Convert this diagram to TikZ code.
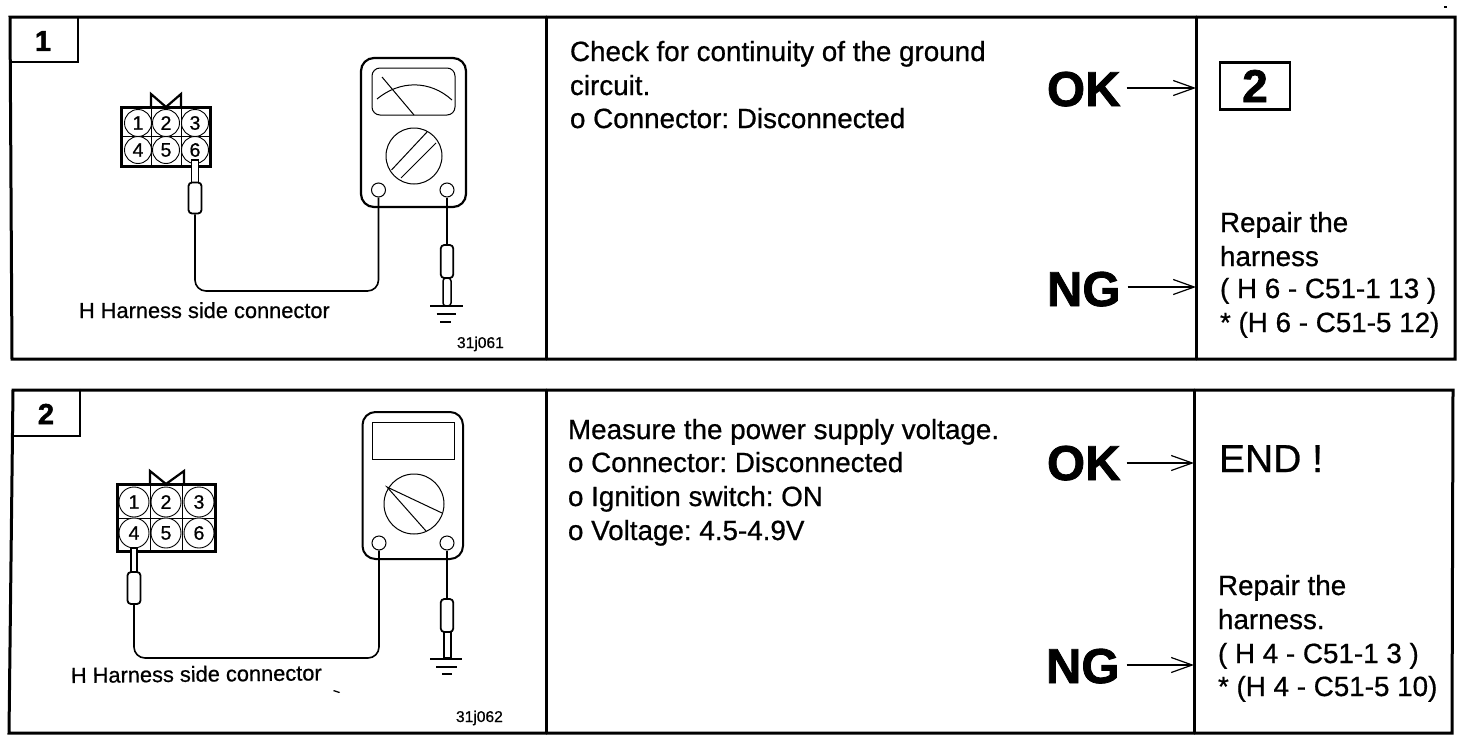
\documentclass[tikz,border=0pt]{standalone}
\usepackage{fontspec}
\setmainfont[FakeBold=0.7]{Liberation Sans}
\newfontfamily\heavy[FakeBold=1.6]{Liberation Sans Bold}
\usetikzlibrary{arrows.meta}
\frenchspacing
\tikzset{
  frameline/.style={line width=3pt,line cap=round},
  thinline/.style={line width=1pt},
  txt/.style={anchor=base west,inner sep=0pt,outer sep=0pt,font=\fontsize{27.8}{30}\selectfont},
  verdict/.style={anchor=base west,inner sep=0pt,outer sep=0pt,font=\heavy\fontsize{49}{50}\selectfont},
  smalltxt/.style={anchor=base west,inner sep=0pt,outer sep=0pt,font=\fontsize{21.8}{24}\selectfont},
  codetxt/.style={anchor=base west,inner sep=0pt,outer sep=0pt,font=\fontsize{15.6}{16}\selectfont},
  tabnum/.style={inner sep=0pt,font=\heavy\fontsize{29}{30}\selectfont},
  pin/.style={circle,draw,line width=.9pt,fill=white,inner sep=0pt,font=\fontsize{19.5}{20}\selectfont},
  termin/.style={circle,draw,line width=1pt,fill=white,inner sep=0pt,minimum size=14pt},
  probebody/.style={rectangle,draw,line width=1.8pt,fill=white,rounded corners=3.5pt,inner sep=0pt},
  probetip/.style={rectangle,draw,line width=1.5pt,fill=white,inner sep=0pt},
  goarrow/.style={line width=1.2pt,-{Straight Barb[length=21pt,width=15pt,line width=1.2pt]}},
  wire/.style={line width=1.6pt,rounded corners=11pt},
}
\begin{document}
\begin{tikzpicture}[x=1pt,y=-1pt]
\useasboundingbox (0,0) rectangle (1472,744);
\fill[white] (0,0) rectangle (1472,744);

% ---------- panel 1 frame
\draw[frameline] (10,17) -- (1455,17) -- (1455,359) -- (12,359) -- cycle;
\draw[frameline] (546,17) -- (546,359);
\draw[frameline] (1196,17) -- (1196,359);
\draw[frameline,line width=2.4pt] (10,62) -- (78,62) -- (78,17);
\node[tabnum] (tabA) at (43,41) {1};

% connector 1
\draw[thinline] (151,107) -- (151,166) (181,107) -- (181,166) (121,136) -- (210,136);
\foreach \n/\x/\y in {1/138/123,2/166/123,3/195/123,4/138/150,5/166/150,6/195/150}
  \node[pin,minimum size=27pt] (pA\n) at (\x,\y) {\n};
\draw[line width=3pt] (121,107) rectangle (210,166);
\draw[line width=2.2pt] (151,107) -- (151,94) -- (166,107) -- (181,94) -- (181,107);

% meter 1
\draw[line width=2.2pt,rounded corners=13pt] (361,58) rectangle (466,207);
\draw[line width=1pt,rounded corners=8pt] (372,68) rectangle (455,115);
\draw[line width=1pt] (377,99) .. controls (400,80) and (430,80) .. (452,100);
\draw[line width=1pt] (382,77) -- (414,115);
\node[circle,draw,line width=1pt,minimum size=56pt,inner sep=0pt] (dialA) at (414,156) {};
\draw[line width=1pt] (391.5,170) -- (427,132) (401,178) -- (436,143);
\node[termin] (tAl) at (378.5,190) {};
\node[termin] (tAr) at (447,190) {};

% probe 1
\node[probetip,minimum width=7pt,minimum height=23pt] (ndA) at (195,171.5) {};
\node[probebody,minimum width=13pt,minimum height=31pt] (bdA) at (195,198) {};
\coordinate (botA) at (285,291);
\draw[wire] (bdA.south) -- (bdA.south |- botA) -- (tAl.south |- botA) -- (tAl.south);

% ground probe 1
\node[probebody,minimum width=12.5pt,minimum height=33pt] (gbA) at (447,261.5) {};
\draw[line width=1.5pt] (tAr.south) -- (gbA.north);
\node[probetip,minimum width=8pt,minimum height=28pt,rounded corners=3pt] (gtA) at (447,292) {};
\draw[line width=1.2pt] (430,306) -- (463,306) (436.5,314) -- (456,314) (440,322) -- (451,322);

\node[smalltxt] (capA) at (79,318) {H Harness side connector};
\node[codetxt] (codeA) at (457,348) {31j061};

% text 1
\node[txt] (a1) at (570,61) {Check for continuity of the ground};
\node[txt] (a2) at (570,95) {circuit.};
\node[txt] (a3) at (570,128) {o Connector: Disconnected};
\node[verdict] (okA) at (1047,106) {OK};
\node[verdict] (ngA) at (1047,306) {NG};
\coordinate (dOkA) at (1196,88);
\coordinate (dNgA) at (1196,287);
\draw[goarrow] (okA.east |- dOkA) ++(6,0) -- (dOkA);
\draw[goarrow] (ngA.east |- dNgA) ++(7,0) -- (dNgA);
\node[draw,line width=2.8pt,minimum width=70pt,minimum height=47pt,inner sep=0pt,font=\heavy\fontsize{46}{48}\selectfont] (nextA) at (1255,86) {2};
\node[txt] (r1) at (1220,232) {Repair the};
\node[txt] (r2) at (1220,266) {harness};
\node[txt] (r3) at (1220,298) {( H 6 - C51-1 13 )};
\node[txt] (r4) at (1220,332) {* (H 6 - C51-5 12)};

% ---------- panel 2 frame
\draw[frameline] (13,390) -- (1453,390) -- (1452,733) -- (9,733) -- cycle;
\draw[frameline] (546,390) -- (546,733);
\draw[frameline] (1194,390) -- (1194,733);
\draw[frameline,line width=2.4pt] (13,436) -- (80,436) -- (80,390);
\node[tabnum] (tabB) at (46,414) {2};

% connector 2
\draw[thinline] (150,484) -- (150,551) (182,484) -- (182,551) (117,518) -- (215,518);
\foreach \n/\x/\y in {1/134/502,2/166/502,3/199/502,4/134/533,5/166/533,6/199/533}
  \node[pin,minimum size=30pt] (pB\n) at (\x,\y) {\n};
\draw[line width=3pt] (117,484) rectangle (215,551);
\draw[line width=2.2pt] (150,484) -- (150,471) -- (166,484) -- (184,471) -- (184,484);

% meter 2
\draw[line width=2pt,rounded corners=13pt] (362.5,412) rectangle (463,559);
\draw[line width=1pt] (372,422) rectangle (454,459);
\node[circle,draw,line width=1pt,minimum size=60pt,inner sep=0pt] (dialB) at (414,504) {};
\draw[line width=1pt] (442,513) -- (387,487) -- (426,531);
\node[termin] (tBl) at (379,543) {};
\node[termin] (tBr) at (447,543) {};

% probe 2
\node[probetip,minimum width=6pt,minimum height=24pt] (ndB) at (134,560) {};
\node[probebody,minimum width=13pt,minimum height=32pt] (bdB) at (134,588) {};
\coordinate (botB) at (255,658);
\draw[wire] (bdB.south) -- (bdB.south |- botB) -- (tBl.south |- botB) -- (tBl.south);

% ground probe 2
\node[probebody,minimum width=12.5pt,minimum height=33pt] (gbB) at (447,615.5) {};
\draw[line width=1.5pt] (tBr.south) -- (gbB.north);
\node[probetip,minimum width=7pt,minimum height=26pt] (gtB) at (447.5,645) {};
\draw[line width=1.5pt] (430,659) -- (462,659);
\draw[line width=1.2pt] (436,667) -- (457,667) (442,674) -- (452,674);

\node[smalltxt,rotate=0.6] (capB) at (71,683) {H Harness side connector};
\node[codetxt] (codeB) at (456,722) {31j062};

% text 2
\node[txt] (b1) at (568,439) {Measure the power supply voltage.};
\node[txt] (b2) at (568,472) {o Connector: Disconnected};
\node[txt] (b3) at (568,506) {o Ignition switch: ON};
\node[txt] (b4) at (568,540) {o Voltage: 4.5-4.9V};
\node[verdict] (okB) at (1047,480) {OK};
\node[verdict] (ngB) at (1046,683) {NG};
\coordinate (dOkB) at (1194,463);
\coordinate (dNgB) at (1194,665);
\draw[goarrow] (okB.east |- dOkB) ++(6,0) -- (dOkB);
\draw[goarrow] (ngB.east |- dNgB) ++(7,0) -- (dNgB);
\node[txt,font=\fontsize{39}{40}\selectfont] (endB) at (1219,472) {END !};
\node[txt] (s1) at (1218,595) {Repair the};
\node[txt] (s2) at (1218,629) {harness.};
\node[txt] (s3) at (1218,663) {( H 4 - C51-1 3 )};
\node[txt] (s4) at (1218,696) {* (H 4 - C51-5 10)};

% specks
\fill (334,690) -- (340,692) -- (339,693) -- (333,691) -- cycle;
\fill (1444,5.5) rectangle (1447,7.5);
\end{tikzpicture}
\end{document}
